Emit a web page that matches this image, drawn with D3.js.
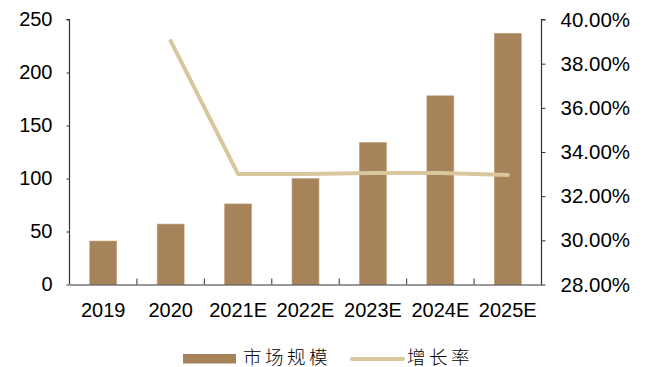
<!DOCTYPE html>
<html>
<head>
<meta charset="utf-8">
<script src="https://cdn.jsdelivr.net/npm/d3@7"></script>
<style>
  html, body { margin: 0; padding: 0; background: #fff; }
  svg { display: block; }
  .tick text { font-family: "Liberation Sans", Arial, sans-serif; }
</style>
</head>
<body>
<svg id="chart" width="646" height="367"></svg>
<script>
// Market size (bars, left axis) and growth rate (line, right axis)
const categories = ["2019", "2020", "2021E", "2022E", "2023E", "2024E", "2025E"];
const marketSize = [41, 57, 76, 100, 134, 178, 237];
const growthRate = [null, 0.3903, 0.3300, 0.3300, 0.3305, 0.3305, 0.3296];
const leftTicks = [0, 50, 100, 150, 200, 250];
const rightTicks = [0.28, 0.30, 0.32, 0.34, 0.36, 0.38, 0.40];
const seriesNames = ["市场规模", "增长率"];

const barColor = "#a6835a";
const lineColor = "#d8c69c";
const axisColor = "#333";

const svg = d3.select("#chart");
const margin = { left: 69.5, right: 646 - 541.5, top: 19.5, bottom: 367 - 284.5 };
const x0 = margin.left, x1 = 646 - margin.right;
const y0 = 367 - margin.bottom, y1 = margin.top;

const x = d3.scaleBand().domain(categories).range([x0, x1]).paddingInner(0.6).paddingOuter(0.3);
const xBoundary = d3.scaleBand().domain(categories).range([x0, x1]).padding(0);
const yL = d3.scaleLinear().domain([0, 250]).range([y0, y1]);
const yR = d3.scaleLinear().domain([0.28, 0.40]).range([y0, y1]);

// Bars
svg.append("g").selectAll("rect").data(categories).join("rect")
  .attr("x", d => x(d))
  .attr("y", (d, i) => yL(marketSize[i]))
  .attr("width", x.bandwidth())
  .attr("height", (d, i) => yL(0) - yL(marketSize[i]))
  .attr("fill", barColor)
  .attr("stroke", "#c2a27c")
  .attr("stroke-width", 0.6);

// Growth line
const pts = categories.map((c, i) => ({ c, v: growthRate[i] })).filter(d => d.v != null);
svg.append("path")
  .datum(pts)
  .attr("fill", "none")
  .attr("stroke", lineColor)
  .attr("stroke-width", 4)
  .attr("stroke-linejoin", "round")
  .attr("stroke-linecap", "round")
  .attr("d", d3.line().x(d => x(d.c) + x.bandwidth() / 2).y(d => yR(d.v)));

// Left axis
const gL = svg.append("g").attr("transform", `translate(${x0},0)`)
  .call(d3.axisLeft(yL).tickValues(leftTicks).tickSize(3).tickPadding(14).tickFormat(d3.format("d")));
gL.selectAll("text").attr("font-size", 20).attr("fill", "#000");

// Right axis
const gR = svg.append("g").attr("transform", `translate(${x1},0)`)
  .call(d3.axisRight(yR).tickValues(rightTicks).tickSize(4).tickPadding(15).tickFormat(d3.format(".2%")));
gR.selectAll("text").attr("font-size", 20.5).attr("fill", "#000");

// Bottom axis: category labels, inner ticks at category boundaries
const gB = svg.append("g").attr("transform", `translate(0,${y0})`)
  .call(d3.axisBottom(x).tickSize(0).tickPadding(18));
gB.selectAll("text").attr("font-size", 20).attr("fill", "#000");
gB.append("g").selectAll("line").data(categories.slice(1)).join("line")
  .attr("x1", d => xBoundary(d)).attr("x2", d => xBoundary(d))
  .attr("y1", 0).attr("y2", -6)
  .attr("stroke", axisColor);

[gL, gR, gB].forEach(g => {
  g.selectAll(".domain").attr("stroke", axisColor).attr("stroke-width", 1.2);
  g.selectAll(".tick line").attr("stroke", axisColor);
});
gL.select(".domain").attr("d", `M-3,${y1}H0V${y0}`);
gR.select(".domain").attr("d", `M4,${y1}H0V${y0}`);

// Legend
const lg = svg.append("g").attr("font-family", "'Noto Sans CJK SC', sans-serif").attr("font-size", 18.5);
lg.append("rect").attr("x", 183).attr("y", 354).attr("width", 53).attr("height", 9.5).attr("fill", barColor);
lg.append("text").attr("x", 243).attr("y", 363.5).attr("letter-spacing", 3.5).attr("font-weight", 300).text(seriesNames[0]);
lg.append("line").attr("x1", 352).attr("x2", 403).attr("y1", 359).attr("y2", 359)
  .attr("stroke", lineColor).attr("stroke-width", 4).attr("stroke-linecap", "round");
lg.append("text").attr("x", 407).attr("y", 363.5).attr("letter-spacing", 3.5).attr("font-weight", 300).text(seriesNames[1]);
</script>
</body>
</html>
